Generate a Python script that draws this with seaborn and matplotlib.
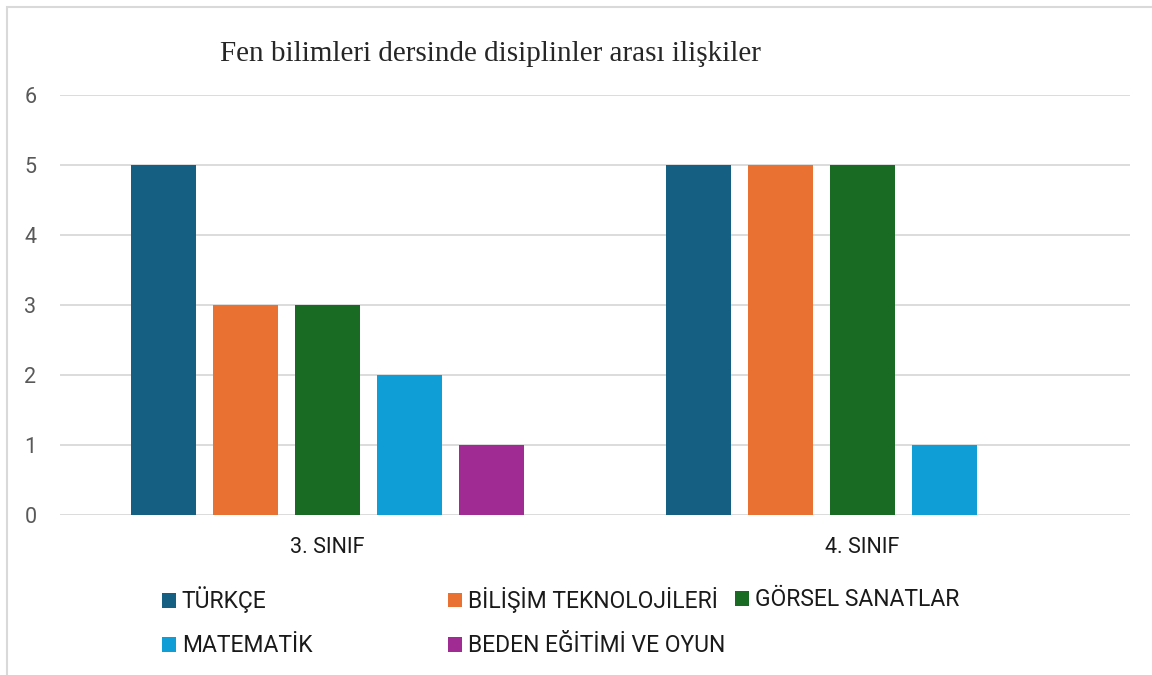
import pandas as pd
import matplotlib.pyplot as plt
import matplotlib.patches as mpatches
import seaborn as sns

# values
siniflar = ['3. SINIF', '4. SINIF']
dersler = ['TÜRKÇE', 'BİLİŞİM TEKNOLOJİLERİ', 'GÖRSEL SANATLAR', 'MATEMATİK',
           'BEDEN EĞİTİMİ VE OYUN']
turkce = [5, 5]
bilisim = [3, 5]
gorsel = [3, 5]
matematik = [2, 1]
beden = [1, 0]
renkler = ['#156082', '#E97132', '#196B24', '#0F9ED5', '#A02B93']

rows = []
for ders, vals in zip(dersler, [turkce, bilisim, gorsel, matematik, beden]):
    for s, v in zip(siniflar, vals):
        rows.append({'sinif': s, 'ders': ders, 'deger': v})
df = pd.DataFrame(rows)

sns.set_style('white')
plt.rcParams['font.family'] = ['Roboto', 'DejaVu Sans']

W, H = 1152, 675
fig = plt.figure(figsize=(W / 100, H / 100), dpi=100)
ax = fig.add_axes([60 / W, 1 - 515 / H, 1070 / W, 420 / H])

sns.barplot(data=df, x='sinif', y='deger', hue='ders', hue_order=dersler,
            palette=renkler, saturation=1, width=0.766, gap=0.207,
            linewidth=0, legend=False, ax=ax)

ax.set_ylim(0, 6)
ax.set_xlim(-0.5, 1.5)
ax.set_yticks(range(0, 7))
ax.yaxis.grid(True, color='#D9D9D9', linewidth=1.3)
ax.set_axisbelow(True)
for sp in ax.spines.values():
    sp.set_visible(False)
ax.set_xlabel('')
ax.set_ylabel('')
ax.tick_params(axis='y', length=0, pad=17, labelsize=15.5, labelcolor='#595959')
ax.tick_params(axis='x', length=0, pad=16, labelsize=15.5, labelcolor='#1a1a1a')

fig.text(490 / W, 1 - 54 / H, 'Fen bilimleri dersinde disiplinler arası ilişkiler',
         ha='center', va='center', fontsize=21, family='Liberation Serif')

# legend entries placed like the original (3 columns, 2 rows)
konumlar = [(162, 600), (448, 600), (735, 600), (162, 646), (448, 646)]
for ders, renk, (px, py) in zip(dersler, renkler, konumlar):
    h = mpatches.Patch(facecolor=renk, edgecolor='none')
    leg = fig.legend(handles=[h], labels=[ders], loc='center left',
                     bbox_to_anchor=(px / W, 1 - py / H), frameon=False,
                     fontsize=16.5, handlelength=0.61, handleheight=0.61,
                     handletextpad=0.26, borderpad=0, borderaxespad=0)
    for t in leg.get_texts():
        t.set_color('#1a1a1a')

# outer chart frame (only top and left visible in the crop)
fig.add_artist(mpatches.Rectangle((7 / W, -0.5), 1.2, 1.5 - 7 / H,
                                  transform=fig.transFigure, fill=False,
                                  edgecolor='#D9D9D9', linewidth=1.5))

fig.savefig('out.png', dpi=100)
